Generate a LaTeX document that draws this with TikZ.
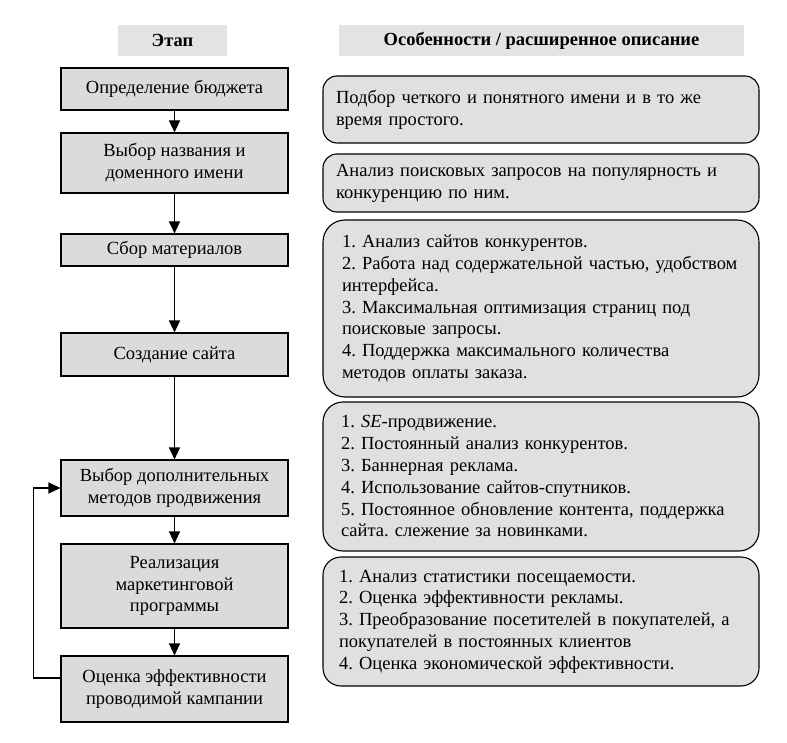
\documentclass[tikz,border=0pt]{standalone}
\usepackage{fontspec}
\setmainfont{Liberation Serif}
\usepackage{xcolor}
\usetikzlibrary{arrows.meta}
\frenchspacing

\begin{document}
\begin{tikzpicture}[x=1pt,y=-1pt,line width=1.1pt,>={Triangle[width=11pt,length=12pt]},
  every node/.style={font=\fontsize{18.5}{21.8}\selectfont,inner sep=0pt},
  head/.style={fill=black!11,font=\bfseries\fontsize{18.5}{21.8}\selectfont,minimum height=31pt},
  stage/.style={draw,fill=black!14,align=center,minimum width=227pt},
  note/.style={draw,fill=black!12,align=left,rounded corners=#1,minimum width=436pt},note/.default=20pt]
  \useasboundingbox (0,0) rectangle (787,743);
  % headers
  \node[head,minimum width=109pt] (etap) at (172.5,40.5) {Этап};
  \node[head,minimum width=405pt] (osob) at (541.5,40.5) {Особенности / расширенное описание};
  % stages
  \node[stage,minimum height=42pt] (budget) at (174.5,89) {Определение бюджета};
  \node[stage,minimum height=60pt] (domain) at (174.5,163) {Выбор названия и\\доменного имени};
  \node[stage,minimum height=32pt] (collect) at (174.5,250) {Сбор материалов};
  \node[stage,minimum height=43pt] (site) at (174.5,354.5) {Создание сайта};
  \node[stage,minimum height=56pt] (methods) at (174.5,488) {Выбор дополнительных\\методов продвижения};
  \node[stage,minimum height=84pt] (market) at (174.5,586) {Реализация\\маркетинговой\\программы};
  \node[stage,minimum height=66pt] (assess) at (174.5,689) {Оценка эффективности\\проводимой кампании};
  % descriptions
  \node[note=14pt,text width=410pt,minimum height=67pt] (dname) at (541,109.5)
    {Подбор четкого и понятного имени и в то же\\время простого.};
  \node[note=14pt,text width=410pt,minimum height=58pt] (dquery) at (541,183)
    {Анализ поисковых запросов на популярность и\\конкуренцию по ним.};
  \node[note=22pt,text width=398pt,minimum height=177pt] (dsite) at (541,308.5)
    {1. Анализ сайтов конкурентов.\\2. Работа над содержательной частью, удобством\\интерфейса.\\3. Максимальная оптимизация страниц под\\поисковые запросы.\\4. Поддержка максимального количества\\методов оплаты заказа.};
  \node[note,text width=400pt,minimum height=149pt] (dpromo) at (541,476.5)
    {1. \textit{SE}-продвижение.\\2. Постоянный анализ конкурентов.\\3. Баннерная реклама.\\4. Использование сайтов-спутников.\\5. Постоянное обновление контента, поддержка\\сайта. слежение за новинками.};
  \node[note=18pt,text width=404pt,minimum height=129pt] (dassess) at (541,621.5)
    {1. Анализ статистики посещаемости.\\2. Оценка эффективности рекламы.\\3. Преобразование посетителей в покупателей, а\\покупателей в постоянных клиентов\\4. Оценка экономической эффективности.};
  % arrows
  \draw[->] (budget) -- (domain);
  \draw[->] (domain) -- (collect);
  \draw[->] (collect) -- (site);
  \draw[->] (site) -- (methods);
  \draw[->] (methods) -- (market);
  \draw[->] (market) -- (assess);
  \draw[->] ([yshift=11pt]assess.west) -- ++(-27,0) |- (methods.west);
\end{tikzpicture}
\end{document}
